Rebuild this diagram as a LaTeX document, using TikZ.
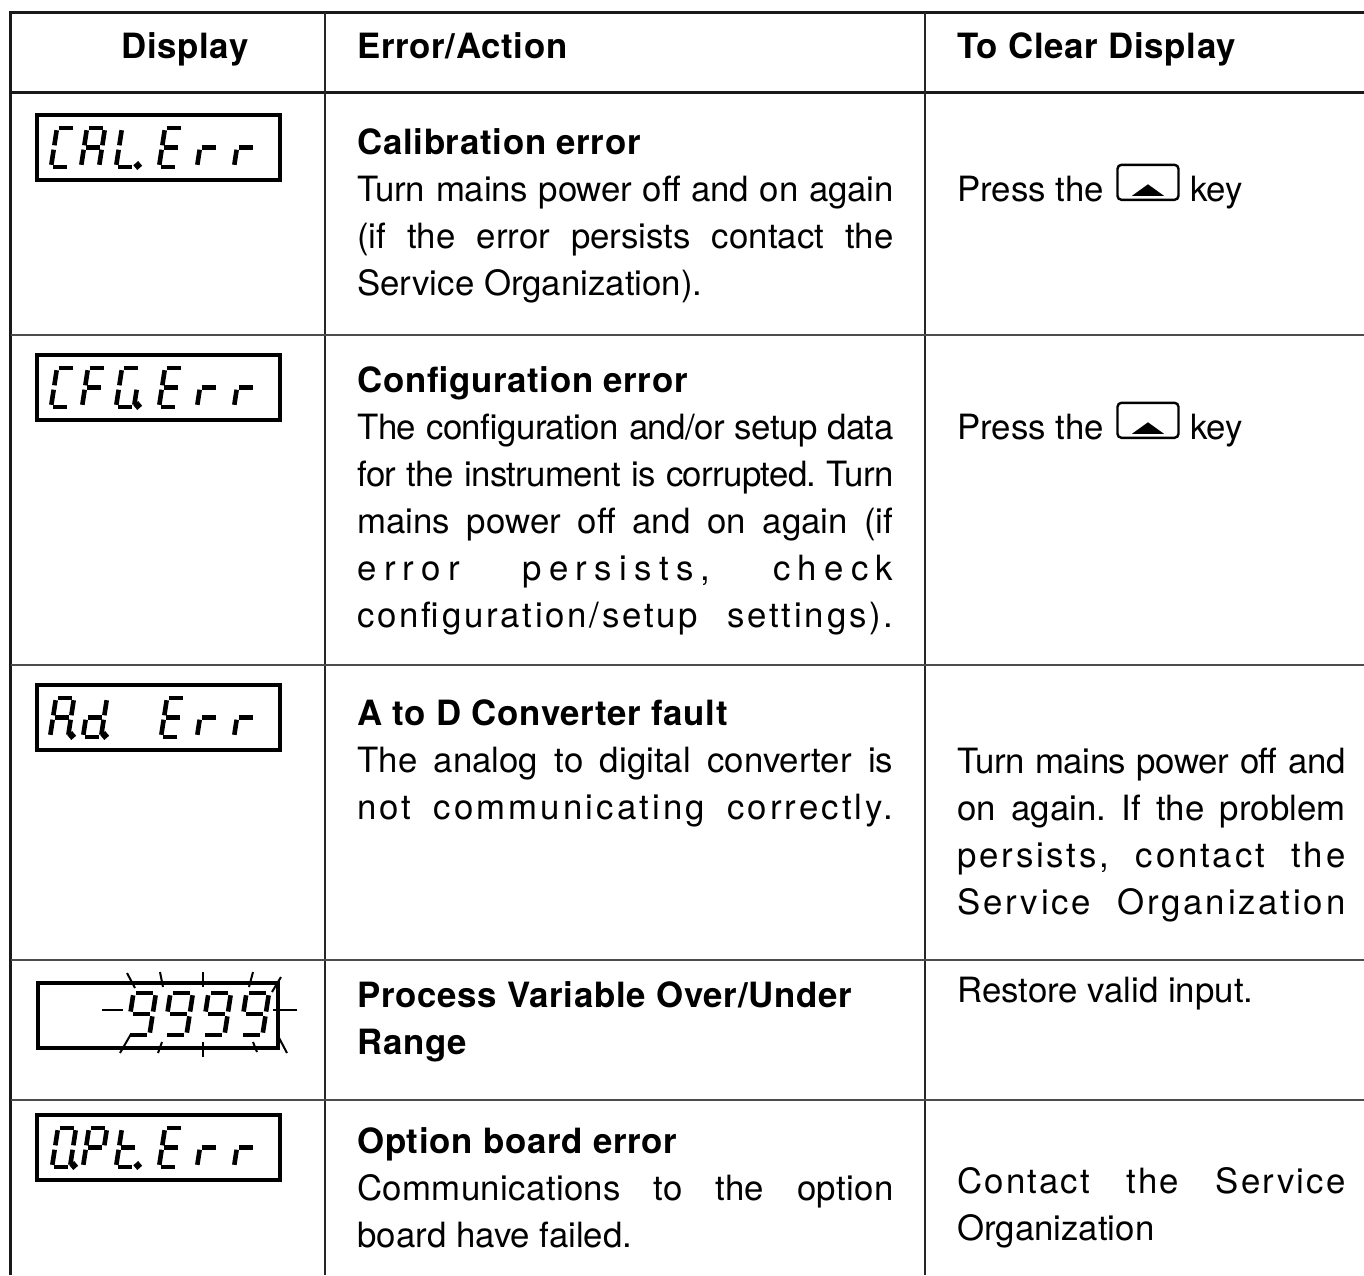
\documentclass[tikz,border=0pt]{standalone}
\usepackage{fontspec}
\setmainfont[BoldFeatures={LetterSpace=2}]{TeX Gyre Heros}
\usetikzlibrary{positioning}
\frenchspacing

% justified lines in the two text columns
\newcommand\jl[1]{\makebox[268pt][s]{#1}}
\newcommand\jr[1]{\makebox[194pt][s]{#1}}
\newcommand\lsp[2]{{\addfontfeature{LetterSpace=#1}#2}}

% seven segment character: [opts]{x}{bottom y}{segments}
\newcommand\segchar[4][]{%
  \edef\seglist{#4}%
  \begin{scope}[shift={(#2,#3)},yscale=-1,xslant=-0.154,#1]
    \foreach \s in \seglist {\draw[segline] [seg \s];}
  \end{scope}}

\tikzset{
  segline/.style={line width=2.3pt,black},
  seg a/.style={insert path={(2.2,39)--(15.8,39)}},
  seg b/.style={insert path={(18,36.8)--(18,21.7)}},
  seg c/.style={insert path={(18,17.3)--(18,2.2)}},
  seg d/.style={insert path={(2.2,0)--(15.8,0)}},
  seg e/.style={insert path={(0,2.2)--(0,17.3)}},
  seg f/.style={insert path={(0,21.7)--(0,36.8)}},
  seg g/.style={insert path={(2.2,19.5)--(15.8,19.5)}},
  seg p/.style={insert path={(21.5,1.5) circle (1.2)}},
}

\begin{document}
\begin{tikzpicture}[x=0.5pt,y=-0.5pt,
  txt/.style={inner sep=0pt,anchor=base west,align=left,font=\fontsize{17.4pt}{23.5pt}\selectfont},
  head/.style={txt,font=\fontsize{17.4pt}{23.5pt}\selectfont\bfseries},
  frame/.style={line width=1.5pt,black!90},
  colline/.style={line width=0.7pt,black!85},
  rowline/.style={line width=0.8pt,black!70},
  dispbox/.style={draw,line width=2pt,inner sep=0pt,minimum width=121.5pt,minimum height=32.5pt},
  keybox/.style={draw,line width=1.2pt,rounded corners=2pt,inner sep=0pt,minimum width=30.5pt,minimum height=17.5pt},
  ray/.style={line width=1pt,black}]
\useasboundingbox (0,0) rectangle (1364,1275);

% table rules
\draw[frame] (1364,12) -- (10.5,12) -- (10.5,1275);
\draw[frame] (10.5,92) -- (1364,92);
\draw[colline] (325,12) -- (325,1275);
\draw[colline] (925,12) -- (925,1275);
\foreach \ry in {335,665,960,1100}
  \draw[rowline] (10.5,\ry) -- (1364,\ry);

% header
\node[head] (hdisp) at (121,58) {Display};
\node[head] (herr) at (357,58) {Error/Action};
\node[head] (hclr) at (957,58) {To Clear Display};

% displays
\node[dispbox] (disp1) at (158.5,147.5) {};
\foreach \cx/\cs in {51/{a,d,e,f},81/{a,b,c,e,f,g},116/{d,e,f,p},159/{a,d,e,f,g},197/{e,g},234/{e,g}}
  \segchar{\cx}{167}{\cs};

\node[dispbox] (disp2) at (158.5,387.5) {};
\foreach \cx/\cs in {51/{a,d,e,f},82/{a,e,f,g},116/{a,c,d,e,f,p},159/{a,d,e,f,g},197/{e,g},234/{e,g}}
  \segchar{\cx}{407}{\cs};

\node[dispbox] (disp3) at (158.5,717.5) {};
\foreach \cx/\cs in {50/{a,b,c,e,f,g,p},83/{b,c,d,e,g,p},161/{a,d,e,f,g},197/{e,g},234/{e,g}}
  \segchar{\cx}{737}{\cs};

\node[dispbox,minimum width=120pt] (disp4) at (157.5,1015) {};
\foreach \cx in {127,164,202,240}
  \segchar[xscale=1.25,yscale=1.08]{\cx}{1035}{a,b,c,d,f,g};
\foreach \ax/\ay/\bx/\by in {127/973/135/988,160/972/163/987,203/972/203/987,253/972/249/987,281/977/272/992,
    120/1053/131/1034,158/1053/162/1042,203/1057/203/1042,257/1052/253/1042,287/1053/277/1034,
    102/1010/123/1010,273/1010/297/1010}
  \draw[ray] (\ax,\ay) -- (\bx,\by);

\node[dispbox] (disp5) at (158.5,1147.5) {};
\foreach \cx/\cs in {52/{a,b,c,d,e,f,p},83/{a,b,e,f,g},116/{d,e,f,g,p},159/{a,d,e,f,g},197/{e,g},234/{e,g}}
  \segchar{\cx}{1167}{\cs};

% error / action column (node base = last line)
\node[txt] (err1) at (357,295) {\textbf{Calibration error}\\
  \jl{\lsp{-0.5}{Turn mains power off and on again}}\\
  \jl{(if the error persists contact the}\\
  Service Organization).};
\node[txt] (err2) at (357,627) {\textbf{Configuration error}\\
  \jl{\lsp{-1.6}{The configuration and/or setup data}}\\
  \jl{\lsp{-1.8}{for the instrument is corrupted. Turn}}\\
  \jl{mains power off and on again (if}\\
  \jl{\lsp{21}{error persists, check}}\\
  \jl{\lsp{8}{configuration/setup settings).}}};
\node[txt] (err3) at (357,819) {\textbf{A to D Converter fault}\\
  \jl{The analog to digital converter is}\\
  \jl{\lsp{9}{not communicating correctly.}}};
\node[txt] (err4) at (357,1054) {\textbf{Process Variable Over/Under}\\
  \textbf{Range}};
\node[txt] (err5) at (357,1247) {\textbf{Option board error}\\
  \jl{\lsp{1}{Communications to the option}}\\
  board have failed.};

% to clear column
\node[txt] (press1) at (957,201) {Press the};
\node[keybox,anchor=south west] (key1) at ([xshift=6pt]press1.base east) {};
\fill ([yshift=-1]key1.center) -- ++(16,11.5) -- ++(-32,0) -- cycle;
\node[txt] (keyw1) at ([xshift=5pt]key1.east |- press1.base) {key};

\node[txt] (press2) at (957,439) {Press the};
\node[keybox,anchor=south west] (key2) at ([xshift=6pt]press2.base east) {};
\fill ([yshift=-1]key2.center) -- ++(16,11.5) -- ++(-32,0) -- cycle;
\node[txt] (keyw2) at ([xshift=5pt]key2.east |- press2.base) {key};

\node[txt] (clr3) at (957,914) {\jr{\lsp{-1.2}{Turn mains power off and}}\\
  \jr{on again. If the problem}\\
  \jr{\lsp{8}{persists, contact the}}\\
  \jr{\lsp{8}{Service Organization}}};
\node[txt] (clr4) at (957,1002) {Restore valid input.};
\node[txt] (clr5) at (957,1240) {\jr{\lsp{6}{Contact the Service}}\\
  Organization};
\end{tikzpicture}
\end{document}
